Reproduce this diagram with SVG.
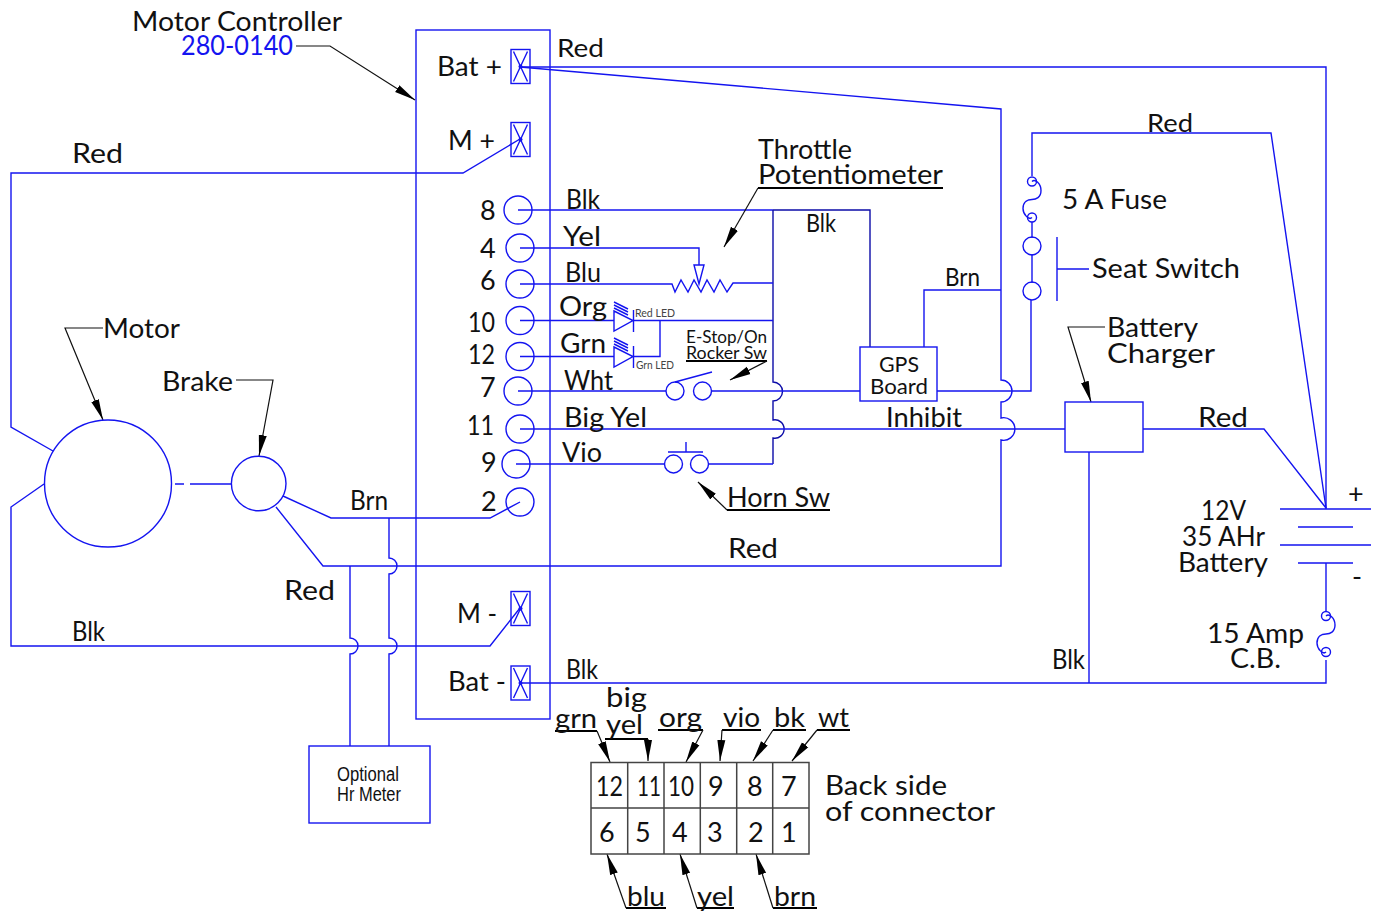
<svg xmlns="http://www.w3.org/2000/svg" width="1381" height="913" viewBox="0 0 1381 913">
<style>
text{font-family:"Lato","Liberation Sans",sans-serif;font-size:27px;fill:#111}
.s{font-size:25px}.m{font-size:17px}.t{font-size:11px;fill:#444}.g{font-size:22px}
.n{font-family:"Liberation Sans",sans-serif;font-size:20px}
.w{fill:none;stroke:#1414f0;stroke-width:1.4}
.d{fill:none;stroke:#0c0ca8;stroke-width:1.4}
.u{fill:none;stroke:#000;stroke-width:2}
.c{fill:none;stroke:#444;stroke-width:1.5}
.a{fill:none;stroke:#111;stroke-width:1.2;marker-end:url(#ah)}
</style>
<defs>
<marker id="ah" markerUnits="userSpaceOnUse" markerWidth="22" markerHeight="12" refX="21" refY="5" orient="auto"><path d="M0 1L21 5L0 9Z" fill="#000"/></marker>
<g id="xt"><rect x="-9.500" y="-17" width="19" height="34" class="w"/><path d="M-7-15L7 15M7-15L-7 15" class="w"/><circle r="2" fill="#1414f0"/></g>
<path id="fz" d="M0-18C3-21 9-16 9-9C9-2 4 0 0 0C-4 0-9 2-9 9C-9 15-3 21 0 18" class="w"/>
</defs>

<g id="controller"><rect x="416" y="30" width="134" height="689" class="w" stroke-width="1.8"/></g>

<g id="connectors">
<path class="w" d="M520 67H1326V509"/>
<path class="w" d="M520 67L1001 109V380A11 11 0 0 1 1001 402V418A11.300 11.300 0 1 1 1001 440V566H323L276 507"/>
<path class="w" d="M520 139L463 173H11V427L53 451"/>
<path class="w" d="M44 484L11 507V646H490L520 608"/>
<path class="w" d="M520 683H1326V660M1326 612V563"/>
<path class="w" d="M518 210H773"/>
<path class="d" d="M773 210H870V347M773 210V382A9.500 9.500 0 0 1 773 401V420A9.200 9.200 0 1 1 773 438V464"/>
<path class="w" d="M520 248H699V265M520 284H672L675 292L681 280L688 292L694 280L701 292L707 280L714 292L720 280L727 292L733 283H773"/>
<path class="w" d="M694 265H704L699 284Z"/>
<path class="w" d="M520 320.500H614M633 320.500H773M520 356.500H614M633 356.500H660V320.500"/>
<path class="w" d="M614 311V331L633 320.500ZM633.500 310V332M614 302L628 309M614 305L628 312M614 308L628 315"/>
<path class="w" d="M614 347V367L633 356.500ZM633.500 346V368M614 338L628 345M614 341L628 348M614 344L628 351"/>
<path class="w" d="M518 391H666M712 391H860M937 391H1031V300M675 382L712 372"/>
<path class="w" d="M520 429H1065M516 464H664M709 464H773M668 452H703M686 442V452"/>
<path class="w" d="M283 496L331 518H490L520 502"/>
<path class="w" d="M389 518V558A8 8 0 0 1 389 574V638A8 8 0 0 1 389 654V746M350 566V638A8 8 0 0 1 350 654V746"/>
<path class="w" d="M924 347V290H1001M1032 283V254M1032 238V222M1032 176V133H1271L1326 508"/>
<path class="w" d="M1143 429H1264L1326 508M1089 452V683"/>
<path class="w" d="M175 484H184M190 484H231M1057 237V301M1057 269H1089"/>
<path class="w" d="M1280 509H1371M1298 527H1353M1280 545H1371M1298 563H1353"/>
<g id="leaders">
<path class="a" d="M296 46H330L415 100"/>
<path class="u" d="M758 188H943"/><path class="a" d="M758 188L724 247"/>
<path class="a" d="M103 328H65L103 420"/>
<path class="a" d="M236 380H273L259 456"/>
<path class="u" d="M727 510H830"/><path class="a" d="M727 510L698 482"/>
<path class="a" d="M1105 327H1068L1091 402"/>
<path class="u" d="M686 361H767"/><path class="a" d="M767 361L730 380"/>
<path class="u" d="M555 731H597M605 739H648M658 730H703M722 730H761M773 730H806M817 730H850M626 908H666M697 908H734M773 908H817"/>
<path class="a" d="M597 731L610 762"/><path class="a" d="M648 739V761"/><path class="a" d="M703 730L686 762"/><path class="a" d="M722 730L720 761"/><path class="a" d="M773 730L753 761"/><path class="a" d="M817 730L792 761"/>
<path class="a" d="M626 908L607 854"/><path class="a" d="M697 908L680 854"/><path class="a" d="M773 908L756 854"/>
</g>
</g>

<g id="terminals">
<use href="#xt" x="520.500" y="66.500"/><use href="#xt" x="520.500" y="139.500"/><use href="#xt" x="520.500" y="608.500"/><use href="#xt" x="520.500" y="683"/>
<circle cx="518" cy="210" r="14" class="w"/><circle cx="520" cy="248" r="14" class="w"/><circle cx="520" cy="284" r="14" class="w"/><circle cx="520" cy="320.500" r="14" class="w"/><circle cx="520" cy="356.500" r="14" class="w"/><circle cx="518" cy="391" r="14" class="w"/><circle cx="520" cy="429" r="14" class="w"/><circle cx="516" cy="464" r="14" class="w"/><circle cx="520" cy="502" r="14" class="w"/>
</g>
<g id="rocker"><circle cx="675" cy="391" r="9" class="w"/><circle cx="702.500" cy="391" r="9" class="w"/></g>
<g id="horn"><circle cx="673.500" cy="464" r="9" class="w"/><circle cx="699.500" cy="464" r="9" class="w"/></g>
<g id="seat"><circle cx="1032" cy="246" r="9" class="w"/><circle cx="1032" cy="291" r="9" class="w"/></g>
<g id="fuse"><use href="#fz" x="1032" y="199.500"/><circle cx="1032" cy="181.500" r="4.500" class="w"/><circle cx="1032" cy="217.500" r="4.500" class="w"/></g>
<g id="cb"><use href="#fz" x="1326" y="634"/><circle cx="1326" cy="616" r="4.500" class="w"/><circle cx="1326" cy="652" r="4.500" class="w"/></g>
<g id="motor"><circle cx="108" cy="483.500" r="63.500" class="w"/></g>
<g id="brake"><circle cx="258.700" cy="483.500" r="27.300" class="w"/></g>
<g id="gps"><rect x="860" y="347" width="77" height="54" class="w"/><text class="g" x="879" y="372" textLength="40" lengthAdjust="spacingAndGlyphs">GPS</text><text class="g" x="870" y="394" textLength="58" lengthAdjust="spacingAndGlyphs">Board</text></g>
<g id="charger"><rect x="1065" y="402" width="78" height="50" class="w"/></g>
<g id="meter"><rect x="309" y="746" width="121" height="77" class="w"/><text class="n" x="337" y="781" textLength="62" lengthAdjust="spacingAndGlyphs">Optional</text><text class="n" x="337" y="801" textLength="64" lengthAdjust="spacingAndGlyphs">Hr Meter</text></g>
<g id="connector"><rect x="591" y="762.500" width="218" height="91.500" class="c"/><path class="c" d="M591 808H809M627.700 762.500V854M664 762.500V854M700.300 762.500V854M736.700 762.500V854M772.700 762.500V854"/>
<text x="596" y="796" textLength="27" lengthAdjust="spacingAndGlyphs">12</text><text x="637" y="796" textLength="24" lengthAdjust="spacingAndGlyphs">11</text><text x="668" y="796" textLength="26" lengthAdjust="spacingAndGlyphs">10</text><text x="708" y="796">9</text><text x="747" y="796">8</text><text x="781" y="796">7</text>
<text x="599" y="842">6</text><text x="635" y="842">5</text><text x="672" y="842">4</text><text x="707" y="842">3</text><text x="748" y="842">2</text><text x="781" y="842">1</text></g>

<g id="labels" transform="translate(0 0.500)">
<text x="132" y="30" textLength="210" lengthAdjust="spacingAndGlyphs">Motor Controller</text>
<text x="181" y="54" textLength="112" lengthAdjust="spacingAndGlyphs" style="fill:#1414f0">280-0140</text>
<text x="437" y="75" textLength="65" lengthAdjust="spacingAndGlyphs">Bat +</text>
<text class="s" x="557" y="56" textLength="47" lengthAdjust="spacingAndGlyphs">Red</text>
<text x="448" y="149" textLength="47" lengthAdjust="spacingAndGlyphs">M +</text>
<text x="72" y="162" textLength="51" lengthAdjust="spacingAndGlyphs">Red</text>
<text x="758" y="158" textLength="94" lengthAdjust="spacingAndGlyphs">Throttle</text>
<text x="758" y="183" textLength="185" lengthAdjust="spacingAndGlyphs">Potentiometer</text>
<text x="566" y="208" textLength="34" lengthAdjust="spacingAndGlyphs">Blk</text>
<text class="s" x="806" y="231" textLength="30" lengthAdjust="spacingAndGlyphs">Blk</text>
<text x="480" y="219">8</text>
<text x="563" y="245" textLength="38" lengthAdjust="spacingAndGlyphs">Yel</text>
<text x="480" y="257">4</text>
<text x="565" y="281" textLength="36" lengthAdjust="spacingAndGlyphs">Blu</text>
<text x="480" y="289">6</text>
<text x="559" y="315" textLength="48" lengthAdjust="spacingAndGlyphs">Org</text>
<text x="468" y="331" textLength="27" lengthAdjust="spacingAndGlyphs">10</text>
<text x="560" y="352" textLength="46" lengthAdjust="spacingAndGlyphs">Grn</text>
<text x="468" y="363" textLength="27" lengthAdjust="spacingAndGlyphs">12</text>
<text x="564" y="389" textLength="49" lengthAdjust="spacingAndGlyphs">Wht</text>
<text x="480" y="396">7</text>
<text x="564" y="426" textLength="83" lengthAdjust="spacingAndGlyphs">Big Yel</text>
<text x="467" y="434" textLength="27" lengthAdjust="spacingAndGlyphs">11</text>
<text x="562" y="461" textLength="40" lengthAdjust="spacingAndGlyphs">Vio</text>
<text x="481" y="471">9</text>
<text x="481" y="510">2</text>
<text x="350" y="509" textLength="38" lengthAdjust="spacingAndGlyphs">Brn</text>
<text x="162" y="390" textLength="71" lengthAdjust="spacingAndGlyphs">Brake</text>
<text x="103" y="337" textLength="77" lengthAdjust="spacingAndGlyphs">Motor</text>
<text x="284" y="599" textLength="51" lengthAdjust="spacingAndGlyphs">Red</text>
<text x="72" y="640" textLength="33" lengthAdjust="spacingAndGlyphs">Blk</text>
<text x="728" y="557" textLength="50" lengthAdjust="spacingAndGlyphs">Red</text>
<text x="457" y="622" textLength="40" lengthAdjust="spacingAndGlyphs">M -</text>
<text x="448" y="690" textLength="58" lengthAdjust="spacingAndGlyphs">Bat -</text>
<text x="566" y="678" textLength="32" lengthAdjust="spacingAndGlyphs">Blk</text>
<text x="1052" y="668" textLength="33" lengthAdjust="spacingAndGlyphs">Blk</text>
<text x="886" y="426" textLength="76" lengthAdjust="spacingAndGlyphs">Inhibit</text>
<text x="1198" y="426" textLength="50" lengthAdjust="spacingAndGlyphs">Red</text>
<text class="s" x="1147" y="131" textLength="46" lengthAdjust="spacingAndGlyphs">Red</text>
<text class="s" x="945" y="285" textLength="35" lengthAdjust="spacingAndGlyphs">Brn</text>
<text x="1062" y="208" textLength="105" lengthAdjust="spacingAndGlyphs">5 A Fuse</text>
<text x="1092" y="277" textLength="148" lengthAdjust="spacingAndGlyphs">Seat Switch</text>
<text x="1107" y="336" textLength="91" lengthAdjust="spacingAndGlyphs">Battery</text>
<text x="1107" y="362" textLength="108" lengthAdjust="spacingAndGlyphs">Charger</text>
<text x="1201" y="519" textLength="45" lengthAdjust="spacingAndGlyphs">12V</text>
<text x="1182" y="545" textLength="83" lengthAdjust="spacingAndGlyphs">35 AHr</text>
<text x="1178" y="571" textLength="90" lengthAdjust="spacingAndGlyphs">Battery</text>
<text x="1348" y="502">+</text>
<text x="1352" y="585">-</text>
<text x="1207" y="642" textLength="97" lengthAdjust="spacingAndGlyphs">15 Amp</text>
<text x="1230" y="667" textLength="51" lengthAdjust="spacingAndGlyphs">C.B.</text>
<text x="825" y="794" textLength="122" lengthAdjust="spacingAndGlyphs">Back side</text>
<text x="825" y="820" textLength="170" lengthAdjust="spacingAndGlyphs">of connector</text>
<text x="727" y="506" textLength="103" lengthAdjust="spacingAndGlyphs">Horn Sw</text>
<text class="m" x="686" y="342" textLength="81" lengthAdjust="spacingAndGlyphs">E-Stop/On</text>
<text class="m" x="686" y="358" textLength="81" lengthAdjust="spacingAndGlyphs">Rocker Sw</text>
<text class="t" x="635" y="316" textLength="40" lengthAdjust="spacingAndGlyphs">Red LED</text>
<text class="t" x="636" y="368" textLength="38" lengthAdjust="spacingAndGlyphs">Grn LED</text>
<text x="555" y="727" textLength="42" lengthAdjust="spacingAndGlyphs">grn</text>
<text x="606" y="706" textLength="41" lengthAdjust="spacingAndGlyphs">big</text>
<text x="606" y="733" textLength="37" lengthAdjust="spacingAndGlyphs">yel</text>
<text x="659" y="726" textLength="43" lengthAdjust="spacingAndGlyphs">org</text>
<text x="723" y="726" textLength="37" lengthAdjust="spacingAndGlyphs">vio</text>
<text x="774" y="726" textLength="31" lengthAdjust="spacingAndGlyphs">bk</text>
<text x="818" y="726" textLength="31" lengthAdjust="spacingAndGlyphs">wt</text>
<text x="627" y="905" textLength="38" lengthAdjust="spacingAndGlyphs">blu</text>
<text x="697" y="905" textLength="37" lengthAdjust="spacingAndGlyphs">yel</text>
<text x="774" y="905" textLength="42" lengthAdjust="spacingAndGlyphs">brn</text>
</g>
</svg>
